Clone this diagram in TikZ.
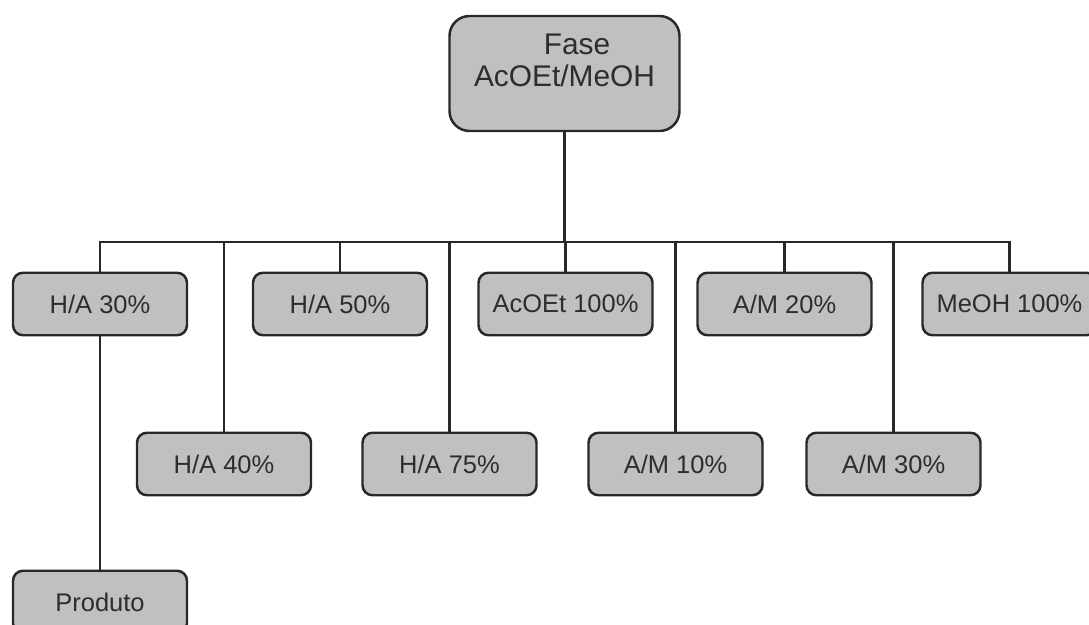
\documentclass[tikz,border=0pt]{standalone}
\usepackage{fontspec}
\setmainfont{Liberation Sans}
\usepackage{xcolor}

\definecolor{boxfill}{RGB}{192,192,192}
\definecolor{boxline}{RGB}{40,40,40}
\definecolor{textgray}{RGB}{45,45,45}

\begin{document}
\begin{tikzpicture}[
        phase/.style={rectangle, draw=boxline, fill=boxfill, line width=1.4pt, rounded corners=0.4cm, minimum width=4.6cm, minimum height=2.3cm, text=textgray, font=\fontsize{17pt}{18.7pt}\selectfont},
        fraction/.style={rectangle, draw=boxline, fill=boxfill, line width=1.4pt, rounded corners=0.2cm, minimum width=3.48cm, minimum height=1.25cm, text=textgray, font=\fontsize{14.5pt}{17pt}\selectfont},
        link/.style={line width=1.2pt, boxline}
    ]
        \useasboundingbox (0,0) rectangle (21.78,12.5);

        \node[phase] (fase) at (11.29, 11.03) {\begin{tabular}{@{}c@{}}\hspace{0.5cm}Fase\\AcOEt/MeOH\hspace{0.4cm}\\[0.38cm]\end{tabular}};

        \node[fraction] (ha30) at (2.0, 6.42) {H/A 30\%};
        \node[fraction] (ha50) at (6.8, 6.42) {H/A 50\%};
        \node[fraction] (acoet) at (11.31, 6.42) {AcOEt 100\%};
        \node[fraction] (am20) at (15.69, 6.42) {A/M 20\%};
        \node[fraction] (meoh) at (20.19, 6.42) {MeOH 100\%};

        \node[fraction] (ha40) at (4.48, 3.22) {H/A 40\%};
        \node[fraction] (ha75) at (8.99, 3.22) {H/A 75\%};
        \node[fraction] (am10) at (13.51, 3.22) {A/M 10\%};
        \node[fraction] (am30) at (17.87, 3.22) {A/M 30\%};

        \node[fraction] (produto) at (2.0, 0.46) {Produto};

        \coordinate (bus) at (0, 7.66);

        \draw[link] (fase.south) -- (fase.south |- bus) -| (ha30.north);
        \draw[link] (fase.south) -- (fase.south |- bus) -| (ha40.north);
        \draw[link] (fase.south) -- (fase.south |- bus) -| (ha50.north);
        \draw[link] (fase.south) -- (fase.south |- bus) -| (ha75.north);
        \draw[link] (fase.south) -- (fase.south |- bus) -| (acoet.north);
        \draw[link] (fase.south) -- (fase.south |- bus) -| (am10.north);
        \draw[link] (fase.south) -- (fase.south |- bus) -| (am20.north);
        \draw[link] (fase.south) -- (fase.south |- bus) -| (am30.north);
        \draw[link] (fase.south) -- (fase.south |- bus) -| (meoh.north);
        \draw[link] (ha30.south) -- (produto.north);
    \end{tikzpicture}
\end{document}
